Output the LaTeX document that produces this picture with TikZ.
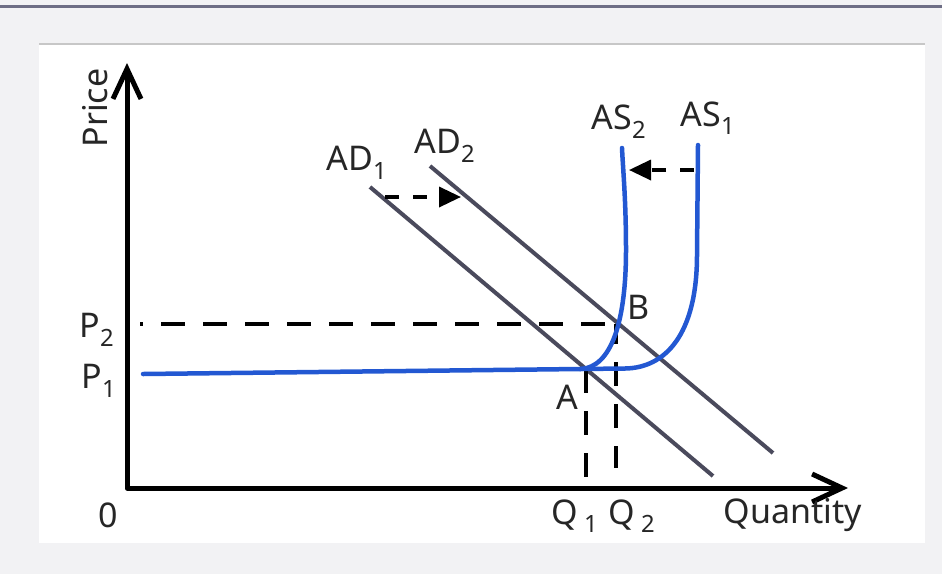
\documentclass[tikz,border=0pt]{standalone}
\usepackage{fontspec}
\setmainfont{Noto Sans}
\usetikzlibrary{arrows.meta}
\definecolor{bgc}{HTML}{F2F2F4}
\definecolor{topc}{HTML}{6E6E85}
\definecolor{adc}{HTML}{4A4A5C}
\definecolor{asc}{HTML}{2358D2}
\tikzset{
  lbl/.style={font=\fontsize{34}{40}\selectfont, inner sep=0pt, text=black!85},
  axisline/.style={line width=5pt, line join=round, {Straight Barb[length=30pt,width=28pt,line width=5pt]}-{Straight Barb[length=30pt,width=28pt,line width=5pt]}},
  adline/.style={adc, line width=4pt},
  asline/.style={asc, line width=4.5pt, line cap=round},
  guide/.style={line width=4.5pt, dash pattern=on 24pt off 18pt},
  shiftarrow/.style={line width=3.5pt, dash pattern=on 14pt off 14pt, -{Triangle[length=22pt,width=20pt]}},
}
\begin{document}
\begin{tikzpicture}[x=1pt,y=-1pt]
\useasboundingbox (0,0) rectangle (942,574);
\fill[bgc] (0,0) rectangle (942,574);
\draw[topc, line width=2.5pt] (0,6.5) -- (942,6.5);
\fill[white] (39,45) rectangle (925,543);
\draw[black!22, line width=2pt] (39,44) -- (925,44);

% axes
\coordinate (ytop) at (127,63);
\coordinate (O) at (127,488);
\coordinate (xend) at (848,488);
\draw[axisline] (ytop) -- (O) -- (xend);

% AD lines
\coordinate (ad1a) at (370,187);
\coordinate (ad1b) at (713,476);
\coordinate (ad2a) at (430,166);
\coordinate (ad2b) at (773,453);
\draw[adline] (ad1a) -- (ad1b);
\draw[adline] (ad2a) -- (ad2b);

% key points
\coordinate (A) at (586,369);
\coordinate (B) at (616,324);
\coordinate (p2start) at (140,324);
\coordinate (q1end) at (586,480);
\coordinate (q2end) at (616,468);

% guide dashed lines
\draw[guide, dash phase=21pt] (p2start) -- (B);
\draw[guide] (A) -- (q1end);
\draw[guide, dash phase=4pt] (B) -- (q2end);

% AS curves
\coordinate (asleft) at (143,374);
\coordinate (asjoin) at (580,369);
\coordinate (as2top) at (622,148);
\coordinate (as1top) at (698,145);
\draw[asline] (asleft) -- (asjoin) .. controls (612,368) and (626,320) .. (626,250) .. controls (626,200) and (623,170) .. (as2top);
\draw[asline] (asjoin) -- (625,368.5) .. controls (665,368) and (697,335) .. (697,255) -- (as1top);

% shift arrows
\coordinate (adarrS) at (385,197);
\coordinate (adarrE) at (461,197);
\coordinate (asarrS) at (694,170);
\coordinate (asarrE) at (629,170);
\draw[shiftarrow] (adarrS) -- (adarrE);
\draw[shiftarrow] (asarrS) -- (asarrE);

% labels
\node[lbl, rotate=90] (price) at (95,108) {Price};
\node[lbl] (p2) at (97,330) {P\textsubscript{2}};
\node[lbl] (p1) at (99,381) {P\textsubscript{1}};
\node[lbl] (zero) at (108,515) {0};
\node[lbl] (q1) at (575,516) {Q\,\textsubscript{1}};
\node[lbl] (q2) at (632,516) {Q\,\textsubscript{2}};
\node[lbl] (qty) at (793,515) {Quantity};
\node[lbl] (ad1l) at (357,163) {AD\textsubscript{1}};
\node[lbl] (ad2l) at (445,146) {AD\textsubscript{2}};
\node[lbl] (as2l) at (619,122) {AS\textsubscript{2}};
\node[lbl] (as1l) at (708,118) {AS\textsubscript{1}};
\node[lbl] (al) at (567,397) {A};
\node[lbl] (bl) at (639,307) {B};
\end{tikzpicture}
\end{document}
